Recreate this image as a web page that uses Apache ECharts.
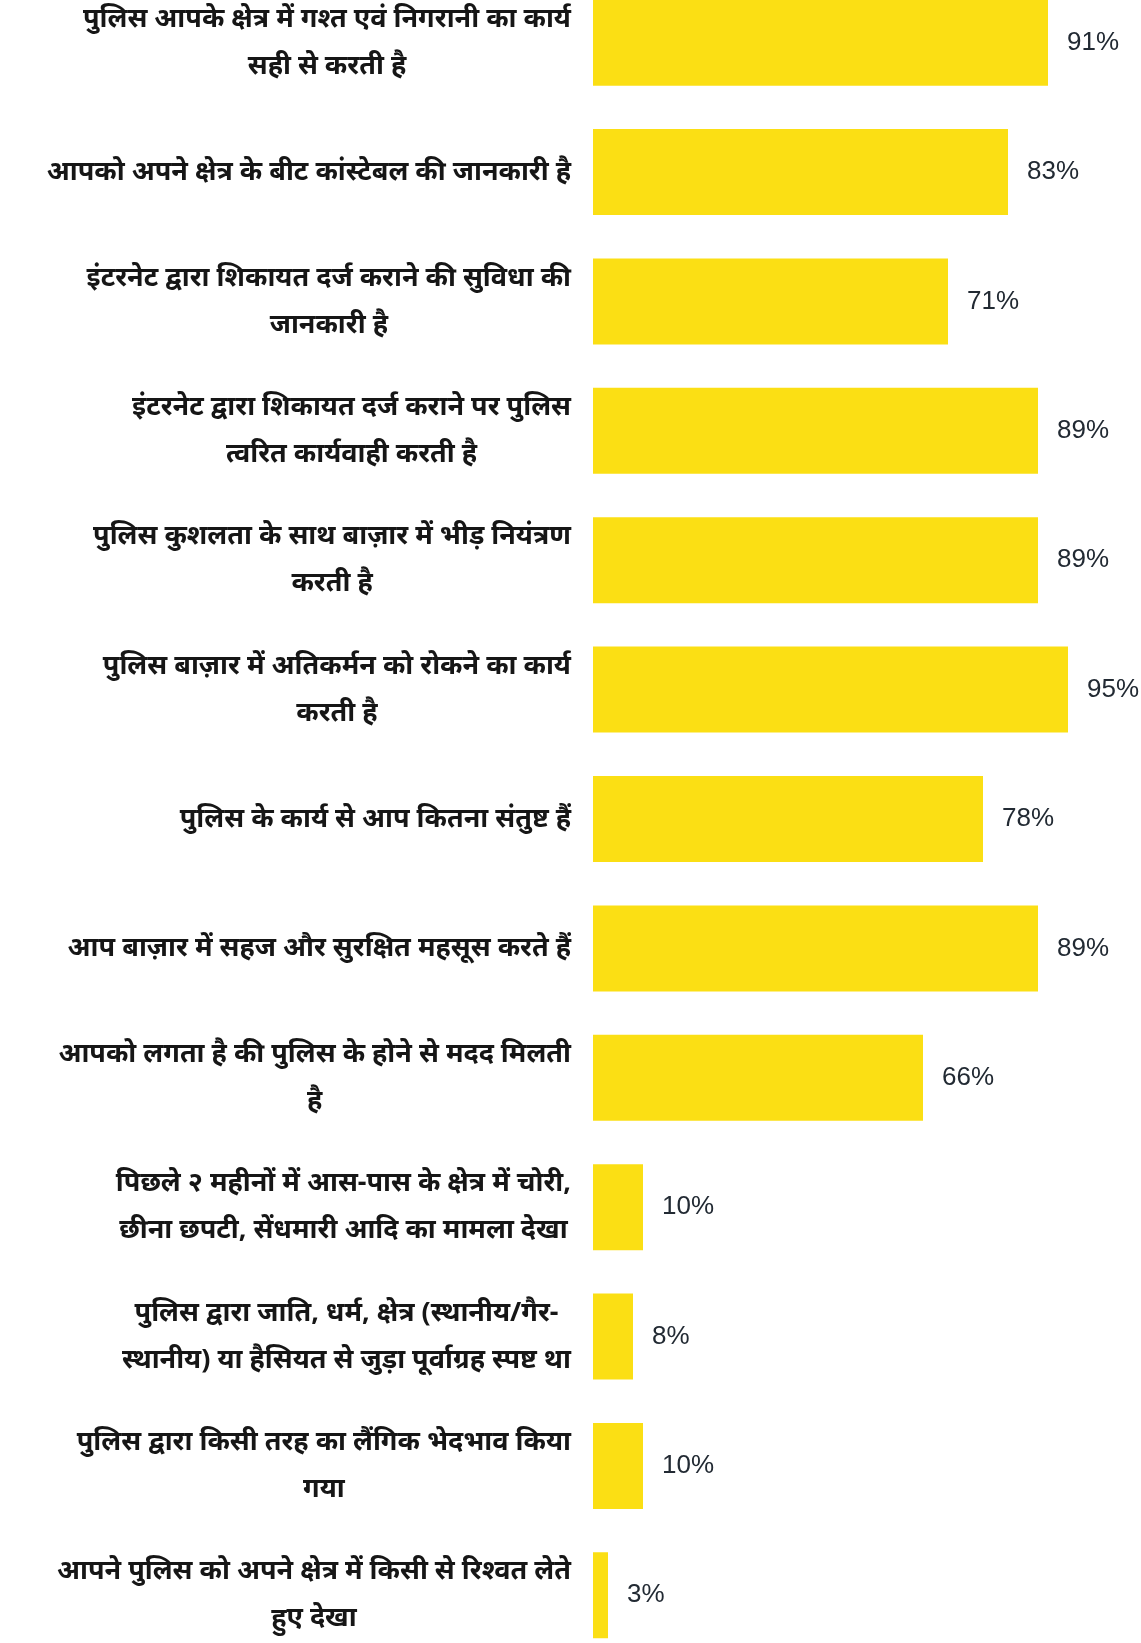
<!DOCTYPE html>
<html>
<head>
<meta charset="utf-8">
<style>
  html, body { margin: 0; padding: 0; background: #ffffff; overflow: hidden; }
  body { width: 1141px; height: 1643px; position: relative; }
  #chart { position: absolute; left: 0; top: -22px; width: 1141px; height: 1682px; }
</style>
<script src="https://cdn.jsdelivr.net/npm/echarts@6/dist/echarts.min.js"></script>
</head>
<body>
<div id="chart"></div>
<script>
const categories = [
  'पुलिस आपके क्षेत्र में गश्त एवं निगरानी का कार्य\nसही से करती है',
  'आपको अपने क्षेत्र के बीट कांस्टेबल की जानकारी है',
  'इंटरनेट द्वारा शिकायत दर्ज कराने की सुविधा की\nजानकारी है',
  'इंटरनेट द्वारा शिकायत दर्ज कराने पर पुलिस\nत्वरित कार्यवाही करती है',
  'पुलिस कुशलता के साथ बाज़ार में भीड़ नियंत्रण\nकरती है',
  'पुलिस बाज़ार में अतिकर्मन को रोकने का कार्य\nकरती है',
  'पुलिस के कार्य से आप कितना संतुष्ट हैं',
  'आप बाज़ार में सहज और सुरक्षित महसूस करते हैं',
  'आपको लगता है की पुलिस के होने से मदद मिलती\nहै',
  'पिछले २ महीनों में आस-पास के क्षेत्र में चोरी,\nछीना छपटी, सेंधमारी आदि का मामला देखा',
  'पुलिस द्वारा जाति, धर्म, क्षेत्र (स्थानीय/गैर-\nस्थानीय) या हैसियत से जुड़ा पूर्वाग्रह स्पष्ट था',
  'पुलिस द्वारा किसी तरह का लैंगिक भेदभाव किया\nगया',
  'आपने पुलिस को अपने क्षेत्र में किसी से रिश्वत लेते\nहुए देखा'
];
const values = [91, 83, 71, 89, 89, 95, 78, 89, 66, 10, 8, 10, 3];

const chart = echarts.init(document.getElementById('chart'), null, { renderer: 'canvas' });
chart.setOption({
  backgroundColor: '#ffffff',
  animation: false,
  grid: { left: 593, right: 48, top: 0, bottom: 0, containLabel: false },
  xAxis: {
    type: 'value', min: 0, max: 100,
    show: false,
    splitLine: { show: false }
  },
  yAxis: {
    type: 'category',
    data: categories,
    inverse: true,
    axisLine: { show: false },
    axisTick: { show: false },
    splitLine: { show: false },
    axisLabel: {
      margin: 22,
      align: 'right',
      formatter: function (v) {
        return v.split('\n').map(function (l) { return '{c|' + l + '}'; }).join('\n');
      },
      rich: {
        c: {
          align: 'center',
          fontSize: 27,
          lineHeight: 47,
          color: '#161616',
          fontWeight: 'bold',
          fontFamily: '"Noto Sans", sans-serif'
        }
      }
    }
  },
  series: [{
    type: 'bar',
    data: values,
    barWidth: 86,
    itemStyle: { color: '#FBDF14' },
    label: {
      show: true,
      position: 'right',
      distance: 19,
      formatter: '{c}%',
      fontSize: 26,
      color: '#222a33',
      fontFamily: '"Liberation Sans", Arial, sans-serif'
    }
  }]
});
</script>
</body>
</html>
